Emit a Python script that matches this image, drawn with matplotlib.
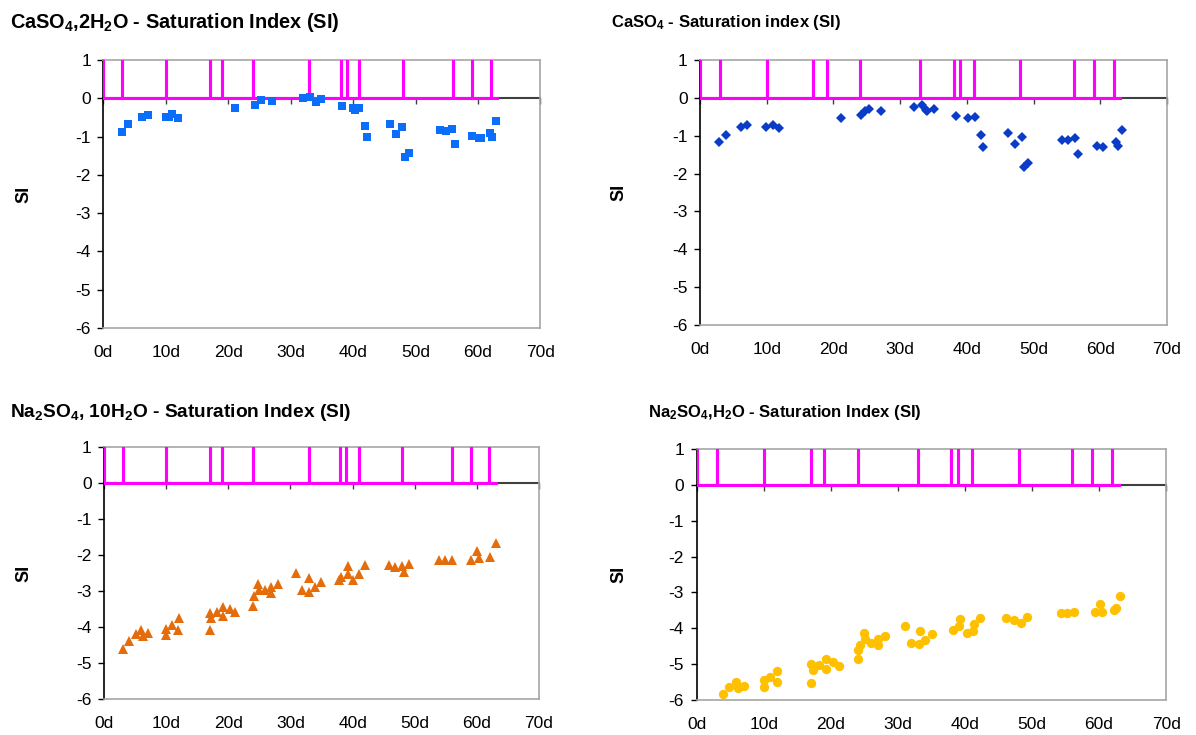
import matplotlib
matplotlib.use("Agg")
import matplotlib.pyplot as plt

plt.rcParams['font.family'] = ['Liberation Sans', 'DejaVu Sans']
plt.rcParams['mathtext.fontset'] = 'custom'
plt.rcParams['mathtext.rm'] = 'Liberation Sans:bold'
plt.rcParams['mathtext.bf'] = 'Liberation Sans:bold'
plt.rcParams['mathtext.default'] = 'bf'

# event days (magenta spikes, 0 -> 1 -> 0) and last day of the record
event_days = [0, 3, 10, 17, 19, 24, 33, 38, 39, 41, 48, 56, 59, 62]
last_day = 63

# CaSO4,2H2O
gyp_day = [3.0, 4.0, 6.2, 7.1, 10.0, 10.5, 11.0, 11.9, 21.0, 24.2, 25.2, 27.0, 32.0, 33.1,
           34.0, 34.9, 38.2, 40.0, 40.3, 41.0, 41.9, 42.2, 45.9, 46.9, 47.9, 48.3, 48.9,
           53.9, 54.8, 55.9, 56.3, 59.1, 60.1, 60.4, 61.9, 62.3, 62.9]
gyp_si = [-0.87, -0.68, -0.49, -0.44, -0.49, -0.49, -0.41, -0.51, -0.26, -0.17, -0.04, -0.06,
          0.01, 0.04, -0.10, -0.01, -0.21, -0.24, -0.31, -0.24, -0.71, -1.01, -0.67, -0.93,
          -0.76, -1.54, -1.43, -0.83, -0.85, -0.80, -1.18, -0.99, -1.04, -1.04, -0.91, -1.01, -0.58]

# CaSO4
anh_day = [2.9, 3.9, 6.2, 7.1, 9.9, 11.0, 11.9, 21.1, 24.1, 24.8, 25.3, 27.1, 32.0, 33.3,
           33.8, 34.0, 35.1, 38.3, 40.1, 41.2, 42.1, 42.4, 46.1, 47.2, 48.2, 48.6, 49.2,
           54.2, 55.2, 56.2, 56.6, 59.5, 60.4, 62.3, 62.6, 63.3]
anh_si = [-1.16, -0.97, -0.77, -0.72, -0.76, -0.71, -0.80, -0.54, -0.44, -0.35, -0.30, -0.34,
          -0.25, -0.18, -0.31, -0.35, -0.30, -0.49, -0.53, -0.50, -0.99, -1.29, -0.94, -1.21,
          -1.04, -1.83, -1.73, -1.10, -1.11, -1.07, -1.47, -1.26, -1.31, -1.17, -1.27, -0.86]

# Na2SO4,10H2O
mir_day = [3.0, 4.0, 5.1, 5.9, 6.3, 7.1, 10.0, 10.0, 11.0, 11.9, 12.0, 17.1, 17.1, 17.2,
           18.2, 19.1, 19.1, 20.2, 21.0, 23.9, 24.1, 24.7, 25.0, 25.9, 26.9, 26.9, 28.0,
           30.9, 31.9, 33.0, 33.0, 34.0, 34.9, 37.8, 38.1, 39.3, 39.3, 40.1, 41.1, 42.0,
           45.9, 46.8, 47.9, 48.3, 49.0, 53.9, 54.9, 56.0, 59.1, 60.0, 60.3, 62.1, 63.0]
mir_si = [-4.62, -4.39, -4.20, -4.07, -4.25, -4.16, -4.04, -4.23, -3.93, -4.07, -3.76, -4.09,
          -3.61, -3.76, -3.59, -3.44, -3.69, -3.49, -3.58, -3.41, -3.12, -2.79, -2.97, -2.97,
          -2.88, -3.04, -2.79, -2.49, -2.97, -2.63, -3.02, -2.88, -2.74, -2.68, -2.60, -2.30,
          -2.53, -2.69, -2.51, -2.28, -2.28, -2.33, -2.30, -2.46, -2.25, -2.14, -2.12, -2.12,
          -2.12, -1.89, -2.09, -2.05, -1.67]

# Na2SO4,H2O
the_day = [3.9, 4.9, 5.9, 6.2, 7.1, 10.0, 10.0, 11.0, 12.0, 12.0, 17.1, 17.1, 17.3, 18.2,
           19.3, 19.3, 20.3, 21.2, 24.1, 24.1, 24.3, 25.0, 25.1, 26.0, 27.0, 27.1, 28.1,
           31.1, 32.0, 33.1, 33.3, 34.0, 35.1, 38.3, 39.3, 39.2, 40.3, 41.2, 41.4, 42.2,
           46.2, 47.3, 48.4, 49.2, 54.3, 55.3, 56.3, 59.4, 60.2, 60.5, 62.2, 62.6, 63.2]
the_si = [-5.83, -5.63, -5.49, -5.67, -5.61, -5.44, -5.65, -5.35, -5.18, -5.51, -5.00, -5.52,
          -5.17, -5.03, -4.87, -5.14, -4.94, -5.05, -4.87, -4.61, -4.47, -4.14, -4.31, -4.42,
          -4.30, -4.47, -4.21, -3.93, -4.40, -4.45, -4.08, -4.33, -4.16, -4.05, -3.73, -3.93,
          -4.12, -4.07, -3.89, -3.71, -3.70, -3.77, -3.85, -3.68, -3.56, -3.56, -3.54, -3.54,
          -3.31, -3.54, -3.50, -3.42, -3.10]

x_ticks = list(range(0, 71, 10))
x_labels = [f'{d}d' for d in x_ticks]
y_ticks = list(range(-6, 2))
y_labels = [str(v) for v in y_ticks]

# step line built from the event days
ev_x, ev_y = [], []
for d in event_days:
    ev_x += [d, d, d]
    ev_y += [0, 1, 0]
ev_x.append(last_day)
ev_y.append(0)

fig = plt.figure(figsize=(11.96, 7.35), dpi=100)

panels = [
    # rect, title, title pos, title size, ylabel x, data, marker style
    ([0.0865, 0.5537, 0.3654, 0.3646], r'CaSO$_4$,2H$_2$O - Saturation Index (SI)', (0.008, 0.969), 14.3, 0.027,
     gyp_day, gyp_si, dict(marker='s', ms=5.5, color='#0A6EFA')),
    ([0.5853, 0.5578, 0.3905, 0.3605], r'CaSO$_4$ - Saturation index (SI)', (0.511, 0.969), 12.0, 0.525,
     anh_day, anh_si, dict(marker='D', ms=5.0, color='#0A3CC8')),
    ([0.0870, 0.0490, 0.3637, 0.3422], r'Na$_2$SO$_4$, 10H$_2$O - Saturation Index (SI)', (0.008, 0.439), 13.8, 0.027,
     mir_day, mir_si, dict(marker='^', ms=7.4, color='#E46C0A')),
    ([0.5824, 0.0476, 0.3926, 0.3415], r'Na$_2$SO$_4$,H$_2$O - Saturation Index (SI)', (0.542, 0.439), 12.0, 0.525,
     the_day, the_si, dict(marker='o', ms=6.7, color='#FFC000')),
]

for rect, title, tpos, tsize, ylab_x, xs, ys, mstyle in panels:
    ax = fig.add_axes(rect)
    ax.set_xlim(0, 70)
    ax.set_ylim(-6, 1)
    ax.set_xticks(x_ticks)
    ax.set_xticklabels(x_labels)
    ax.set_yticks(y_ticks)
    ax.set_yticklabels(y_labels)
    for s in ['top', 'right', 'bottom']:
        ax.spines[s].set_color('#a6a6a6')
        ax.spines[s].set_linewidth(1.2)
    ax.spines['left'].set_color('black')
    ax.spines['left'].set_linewidth(1.2)
    ax.tick_params(axis='x', length=0, pad=12, labelsize=12.5)
    ax.tick_params(axis='y', direction='out', length=4, width=1, pad=5, labelsize=12.5)

    # horizontal axis crossing at SI = 0
    sec = ax.secondary_xaxis(6 / 7)
    sec.set_xticks(x_ticks)
    sec.tick_params(direction='in', length=4, width=1, color='#404040',
                    labeltop=False, labelbottom=False)
    for sp in sec.spines.values():
        sp.set_color('#404040')
        sp.set_linewidth(1.5)

    ax.plot(ev_x, ev_y, color='#FF00FF', lw=2.2, solid_joinstyle='miter', zorder=3)
    ax.plot(xs, ys, linestyle='none', markeredgewidth=0, zorder=4, **mstyle)

    ax.set_ylabel('SI', fontsize=13, fontweight='bold')
    ax.yaxis.set_label_coords(ylab_x, rect[1] + rect[3] / 2, transform=fig.transFigure)
    fig.text(tpos[0], tpos[1], title, fontsize=tsize, fontweight='bold', va='center', ha='left')

fig.savefig('out.png', dpi=100)
